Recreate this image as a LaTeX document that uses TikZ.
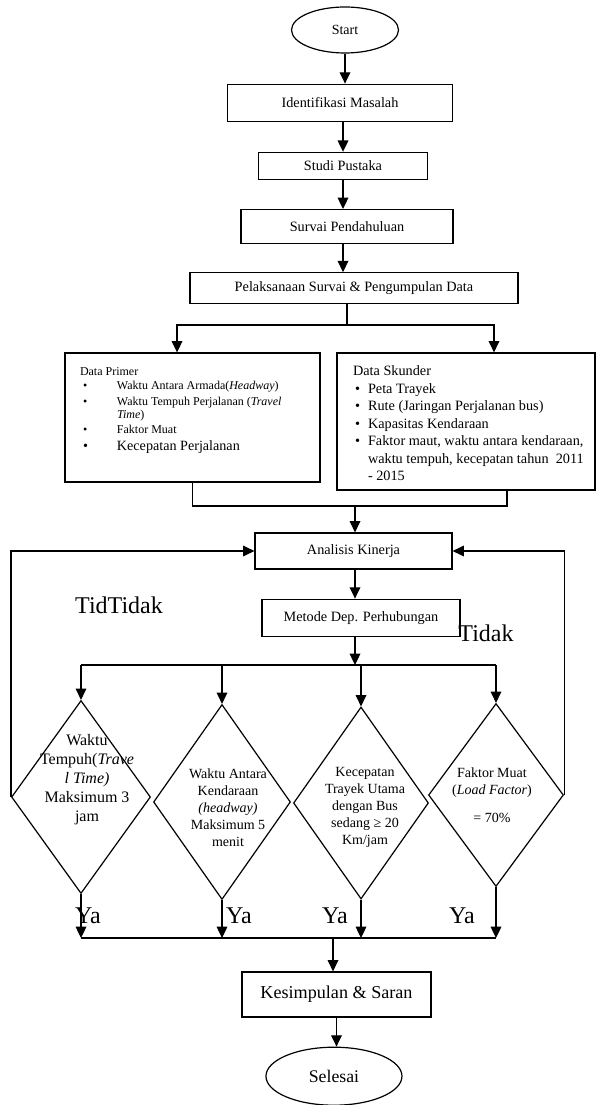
\documentclass[tikz,border=0pt]{standalone}
\usepackage{fontspec}
\setmainfont{Liberation Serif}
\usetikzlibrary{arrows.meta,positioning,shapes.geometric}
\newcommand{\boxfont}{\fontsize{10.7}{12.8}\selectfont}
\newcommand{\primerfont}{\fontsize{9}{10}\selectfont}
\newcommand{\skunderfont}{\fontsize{10.7}{13.1}\selectfont}
\tikzset{
  block/.style={
    draw=black,
    line width=0.9pt,
    inner sep=0pt,
    align=center,
    font=\boxfont,
    fill=white
  },
  terminal/.style={
    ellipse,
    draw=black,
    line width=0.9pt,
    inner sep=0pt,
    align=center,
    fill=white
  },
  decision/.style={diamond, draw=black, line width=0.9pt, inner sep=0pt},
  decisiontext/.style={align=center, inner sep=0pt, font=\fontsize{10.5}{12.75}\selectfont},
  flow/.style={-{Triangle[length=8.5pt,width=8pt]}, line width=0.9pt},
  link/.style={line width=0.8pt},
  bignote/.style={inner sep=0pt, font=\fontsize{18}{20}\selectfont}
}

\begin{document}
\begin{tikzpicture}[x=0.75pt, y=0.75pt]
\useasboundingbox (0,0) rectangle (597,-1105);

% Preparation chain
\node[terminal, minimum width=80.25pt, minimum height=34.5pt, font=\fontsize{10.5}{12}\selectfont] (start) at (345,-30) {Start};
\node[block, below=22.5pt of start, xshift=-3.75pt, minimum width=168.75pt, minimum height=27.75pt] (ident) {Identifikasi Masalah};
\node[block, below=22.5pt of ident, xshift=2.25pt, minimum width=126.75pt, minimum height=20.25pt] (studi) {Studi Pustaka};
\node[block, below=21.75pt of studi, xshift=3pt, minimum width=159pt, minimum height=25.5pt] (survai) {Survai Pendahuluan};
\node[block, below=21pt of survai, xshift=5.25pt, minimum width=246pt, minimum height=23.25pt] (pelak) {Pelaksanaan Survai \& Pengumpulan Data};

% Data boxes
\node[block, minimum width=191.25pt, minimum height=96.75pt] (primer) at (192.5,-417.5) {%
\parbox[c][96.75pt][t]{191.25pt}{\primerfont\vspace*{9.5pt}\hspace*{11.25pt}%
\begin{tabular}[t]{@{\hspace{2.25pt}}p{25.5pt}@{}l@{}}
\multicolumn{2}{@{}l}{Data Primer}\\[0.5pt]
\textbullet & Waktu Antara Armada(\textit{Headway})\\[2pt]
\textbullet & Waktu Tempuh Perjalanan (\textit{Travel}\\
 & \textit{Time})\\[1.25pt]
\textbullet & Faktor Muat\\[2.75pt]
{\fontsize{10.6}{12}\selectfont\textbullet} & {\fontsize{10.6}{12}\selectfont Kecepatan Perjalanan}
\end{tabular}}};
\node[block, minimum width=193.5pt, minimum height=102.75pt] (skunder) at (466,-421.5) {%
\parbox[c][102.75pt][t]{193.5pt}{\skunderfont\vspace*{8pt}\hspace*{12pt}%
\begin{tabular}[t]{@{\hspace{1.5pt}}p{9.75pt}@{}l@{}}
\multicolumn{2}{@{}l}{Data Skunder}\\
\textbullet & Peta Trayek\\
\textbullet & Rute (Jaringan Perjalanan bus)\\
\textbullet & Kapasitas Kendaraan\\
\textbullet & Faktor maut, waktu antara kendaraan,\\
 & waktu tempuh, kecepatan tahun\ \ 2011\\
 & - 2015
\end{tabular}}};

% Analysis
\node[block, minimum width=147.75pt, minimum height=27pt] (analisis) at (353.5,-551) {Analisis Kinerja};
\node[block, below=21.75pt of analisis, xshift=5.6pt, minimum width=148.5pt, minimum height=27.75pt] (metode) {Metode Dep. Perhubungan};

% Criteria
\node[decision, minimum width=104.25pt, minimum height=144.75pt] (travel) at (81,-797) {};
\node[decisiontext, font=\fontsize{12}{14.25}\selectfont] (traveltext) at (87,-780) {Waktu\\Tempuh(\textit{Trave}\\\textit{l Time)}\\Maksimum 3\\jam};
\node[decision, minimum width=102.75pt, minimum height=146.25pt] (headway) at (222,-802) {};
\node[decisiontext] (headwaytext) at (228,-807.5) {Waktu Antara\\Kendaraan\\\textit{(headway)}\\Maksimum 5\\menit};
\node[decision, minimum width=101.25pt, minimum height=144pt] (speed) at (361,-803) {};
\node[decisiontext] (speedtext) at (365,-807.5) {Kecepatan\\Trayek Utama\\dengan Bus\\sedang ≥ 20\\Km/jam};
\node[decision, minimum width=101.25pt, minimum height=137.25pt] (load) at (496,-795) {};
\node[decisiontext] (loadtext) at (492,-795.5) {Faktor Muat\\(\textit{Load Factor})\\[8.25pt]= 70\%};

% Conclusion
\node[block, minimum width=141.75pt, minimum height=33.75pt, font=\fontsize{13.6}{16}\selectfont] (kesimpulan) at (336.5,-994.5) {Kesimpulan \& Saran};
\node[terminal, below=21.75pt of kesimpulan, xshift=-1.9pt, minimum width=102pt, minimum height=43.5pt, font=\fontsize{13.3}{16}\selectfont] (selesai) {Selesai};

% Branch labels
\node[bignote] (tidakleft) at (119,-605) {TidTidak};
\node[bignote] (tidakright) at (486,-633) {Tidak};
\node[bignote] (ya1) at (88,-916) {Ya};
\node[bignote] (ya2) at (239,-916) {Ya};
\node[bignote] (ya3) at (335,-916) {Ya};
\node[bignote] (ya4) at (462,-916) {Ya};

% Junctions
\coordinate (split1) at (347,-325);
\coordinate (merge1) at (355,-506);
\coordinate (split2) at (355,-665);
\coordinate (merge2) at (333,-938);

% Main flow
\draw[flow] (start.south) -- (start.south |- ident.north);
\draw[flow] (studi.north |- ident.south) -- (studi.north);
\draw[flow] (studi.south) -- (studi.south |- survai.north);
\draw[flow] (studi.south |- survai.south) -- (studi.south |- pelak.north);
\draw[link] (split1 |- pelak.south) -- (split1);
\draw[flow] (split1) -| ([xshift=-11.6pt]primer.north);
\draw[flow] (split1) -| ([xshift=21pt]skunder.north);
\draw[link] (primer.south) |- (merge1) -| ([xshift=30.75pt]skunder.south);
\draw[flow] (merge1) -- (merge1 |- analisis.north);
\draw[flow] (analisis.south -| merge1) -- (merge1 |- metode.north);
\draw[flow] (split2 |- metode.south) -- (split2);
\draw[link] (travel.north |- split2) -- (load.north |- split2);
\draw[flow] (travel.north |- split2) -- (travel.north);
\draw[flow] (headway.north |- split2) -- (headway.north);
\draw[flow] (speed.north |- split2) -- (speed.north);
\draw[flow] (load.north |- split2) -- (load.north);

% Tidak loops
\draw[flow] (travel.west) |- (analisis.west);
\draw[flow] (load.east) |- (analisis.east);

% Ya flow
\draw[flow] (travel.south) -- (travel.south |- merge2);
\draw[flow] (headway.south) -- (headway.south |- merge2);
\draw[flow] (speed.south) -- (speed.south |- merge2);
\draw[flow] (load.south) -- (load.south |- merge2);
\draw[link] (travel.south |- merge2) -- (load.south |- merge2);
\draw[flow] (merge2) -- (merge2 |- kesimpulan.north);
\draw[flow] (kesimpulan.south) -- (kesimpulan.south |- selesai.north);

\end{tikzpicture}
\end{document}
